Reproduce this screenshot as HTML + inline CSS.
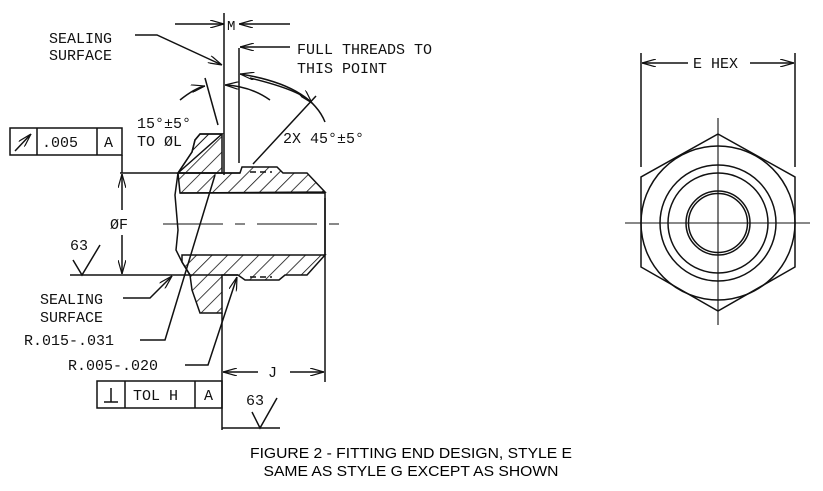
<!DOCTYPE html>
<html><head><meta charset="utf-8"><style>
html,body{margin:0;padding:0;background:#fff;}
svg{display:block;}
.t{font-family:"Liberation Mono",monospace;font-size:15px;fill:#111;}
.c{font-family:"Liberation Sans",sans-serif;font-size:14.5px;fill:#000;}
</style></head><body>
<svg width="823" height="491" viewBox="0 0 823 491" xmlns="http://www.w3.org/2000/svg">
<defs>
<pattern id="h" patternUnits="userSpaceOnUse" width="11" height="11" patternTransform="rotate(45)">
<line x1="0" y1="0" x2="0" y2="11" stroke="#111" stroke-width="1.6"/>
</pattern>
<marker id="a" markerWidth="14" markerHeight="8" refX="14" refY="4" orient="auto" markerUnits="userSpaceOnUse">
<path d="M0,0 L14,4 L0,8" fill="none" stroke="#111" stroke-width="1.2"/>
</marker>
</defs>
<g stroke="#111" stroke-width="1.5" fill="none">
<path d="M222,134 L200,134 L195,140 L192,152 L178,173 L240,173 L242,167 L277,167 L283,173 L307,173 L325,192 L180,193 L178,173 Z" fill="url(#h)"/>
<path d="M200,134 L222,134 L222,173 L178,173 L192,152 L195,140 Z" fill="url(#h)"/>
<path d="M182,255 L325,255 L307,275 L285,275 L279,280 L245,280 L238,275 L222,275 L222,313 L200,313 L192,290 L190,275 L182,262 Z" fill="url(#h)"/>
<path d="M178,173 L175,195 L178,230 L176,250 L182,262 L190,275"/>
<line x1="180" y1="193" x2="325" y2="193"/>
<line x1="325" y1="192" x2="325" y2="255"/>
<line x1="325" y1="198" x2="325" y2="382"/>
<line x1="120" y1="173" x2="240" y2="173"/>
<line x1="70" y1="275" x2="238" y2="275"/>
<line x1="250" y1="172" x2="272" y2="172" stroke-dasharray="6,4"/>
<line x1="250" y1="277" x2="272" y2="277" stroke-dasharray="6,4"/>
<line x1="163" y1="224" x2="340" y2="224" stroke-dasharray="60,12,10,12" stroke-width="1.1"/>
<line x1="224" y1="13" x2="224" y2="175"/>
<line x1="239" y1="48" x2="239" y2="163"/>
<line x1="175" y1="24" x2="224" y2="24" marker-end="url(#a)"/>
<line x1="290" y1="24" x2="239" y2="24" marker-end="url(#a)"/>
<line x1="290" y1="47" x2="240" y2="47" marker-end="url(#a)"/>
<path d="M135,35 L157,35 L222,65" marker-end="url(#a)"/>
<path d="M180,100 Q195,88 205,86" marker-end="url(#a)"/>
<path d="M270,100 Q250,86 225,85" marker-end="url(#a)"/>
<line x1="205" y1="78" x2="218" y2="125"/>
<path d="M325,122 Q310,85 240,74" marker-end="url(#a)"/>
<path d="M250,78 Q300,90 312,103" marker-end="url(#a)"/>
<line x1="253" y1="164" x2="316" y2="96"/>
<rect x="10" y="128" width="112" height="27"/>
<line x1="37" y1="128" x2="37" y2="155"/>
<line x1="97" y1="128" x2="97" y2="155"/>
<path d="M15,151 L31,134" marker-end="url(#a)"/>
<line x1="122" y1="155" x2="122" y2="173"/>
<line x1="122" y1="210" x2="122" y2="174" marker-end="url(#a)"/>
<line x1="122" y1="235" x2="122" y2="274" marker-end="url(#a)"/>
<path d="M73,260 L82,275 L100,245"/>
<path d="M123,298 L150,298 L172,276" marker-end="url(#a)"/>
<path d="M140,340 L165,340 L215,175"/>
<path d="M185,365 L208,365 L237,277" marker-end="url(#a)"/>
<line x1="222" y1="313" x2="222" y2="430"/>
<line x1="258" y1="372" x2="223" y2="372" marker-end="url(#a)"/>
<line x1="290" y1="372" x2="324" y2="372" marker-end="url(#a)"/>
<rect x="97" y="381" width="125" height="27"/>
<line x1="125" y1="381" x2="125" y2="408"/>
<line x1="195" y1="381" x2="195" y2="408"/>
<line x1="104" y1="402" x2="118" y2="402"/>
<line x1="111" y1="388" x2="111" y2="402"/>
<line x1="222" y1="428" x2="280" y2="428"/>
<path d="M252,412 L260,428 L277,398"/>
<polygon points="718,134 795,177 795,267 718,311 641,267 641,177"/>
<circle cx="718" cy="223" r="77"/>
<circle cx="718" cy="223" r="58"/>
<circle cx="718" cy="223" r="50"/>
<circle cx="718" cy="223" r="32"/>
<circle cx="718" cy="223" r="29.5"/>
<line x1="625" y1="223" x2="810" y2="223" stroke-width="1.1"/>
<line x1="718" y1="118" x2="718" y2="325" stroke-width="1.1"/>
<line x1="641" y1="53" x2="641" y2="167"/>
<line x1="795" y1="53" x2="795" y2="167"/>
<line x1="688" y1="63" x2="642" y2="63" marker-end="url(#a)"/>
<line x1="750" y1="63" x2="794" y2="63" marker-end="url(#a)"/>
</g>
<g class="t">
<text x="49" y="43">SEALING</text>
<text x="49" y="60">SURFACE</text>
<text x="227" y="30" font-size="14">M</text>
<text x="297" y="54">FULL THREADS TO</text>
<text x="297" y="73">THIS POINT</text>
<text x="137" y="128">15°±5°</text>
<text x="137" y="146">TO ØL</text>
<text x="283" y="143">2X 45°±5°</text>
<text x="42" y="147">.005</text>
<text x="104" y="147">A</text>
<text x="110" y="229">ØF</text>
<text x="70" y="250">63</text>
<text x="40" y="304">SEALING</text>
<text x="40" y="322">SURFACE</text>
<text x="24" y="345">R.015-.031</text>
<text x="68" y="370">R.005-.020</text>
<text x="268" y="377">J</text>
<text x="133" y="400">TOL H</text>
<text x="204" y="400">A</text>
<text x="246" y="405">63</text>
<text x="693" y="68">E HEX</text>
</g>
<g class="c">
<text x="411" y="458" text-anchor="middle" textLength="322" lengthAdjust="spacingAndGlyphs">FIGURE 2 - FITTING END DESIGN, STYLE E</text>
<text x="411" y="476" text-anchor="middle" textLength="295" lengthAdjust="spacingAndGlyphs">SAME AS STYLE G EXCEPT AS SHOWN</text>
</g>
</svg>
</body></html>
